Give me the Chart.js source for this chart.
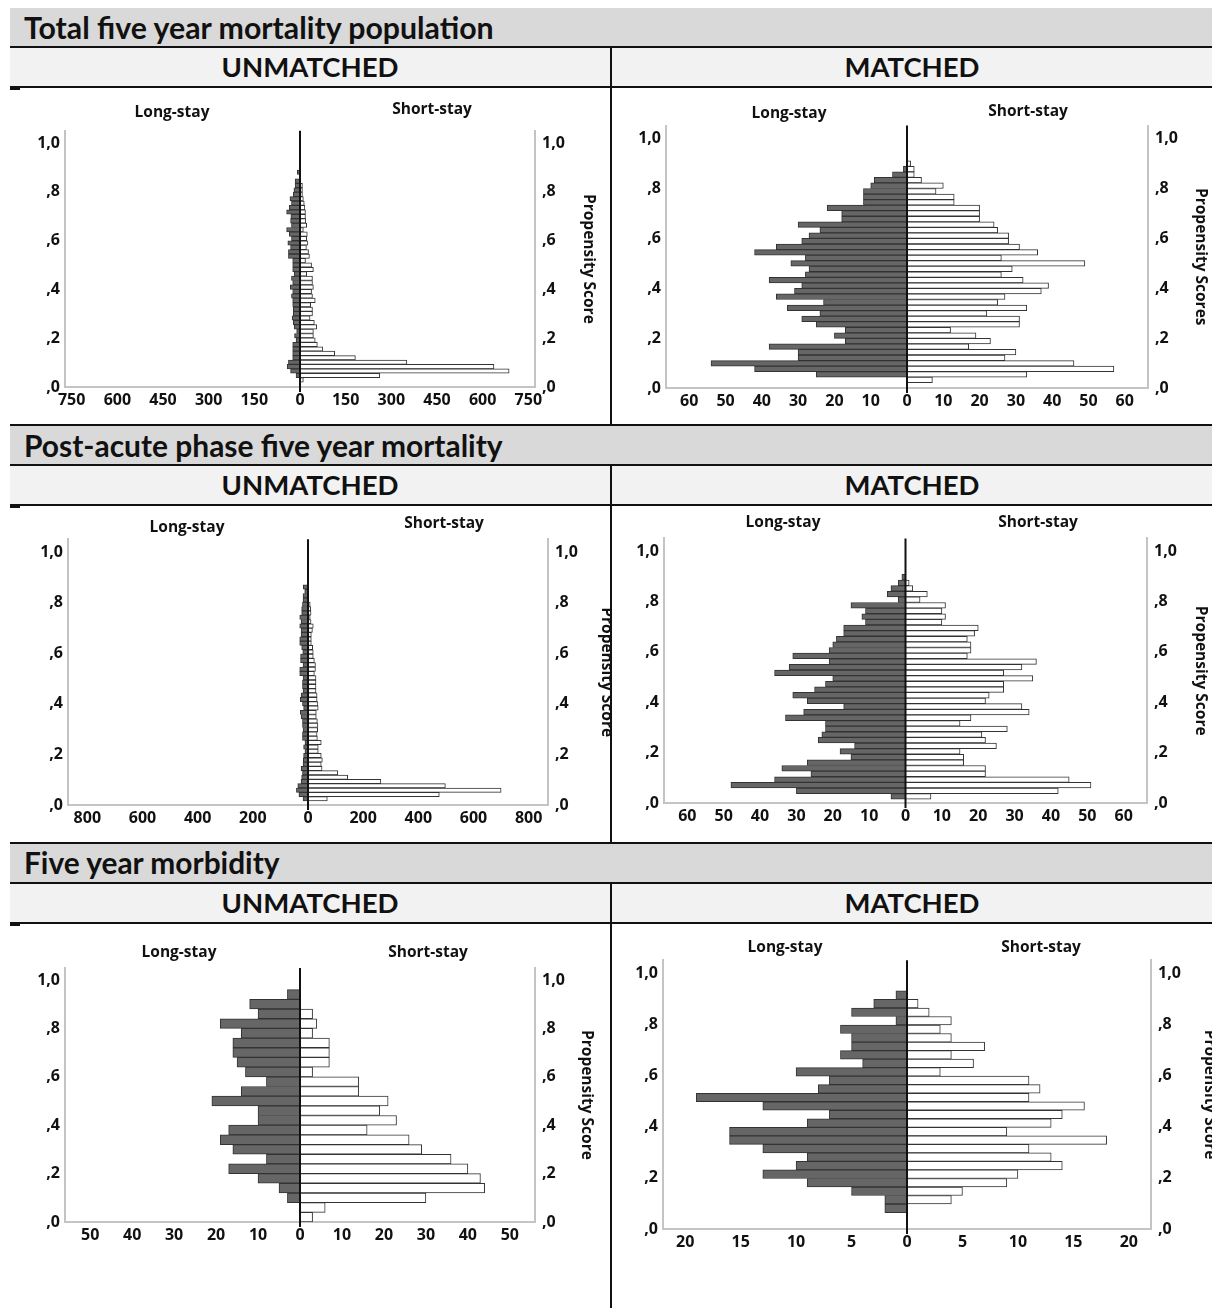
<!DOCTYPE html>
<html>
<head>
<meta charset="utf-8">
<title>Propensity score pyramids</title>
<script src="https://cdn.jsdelivr.net/npm/chart.js@4.4.1/dist/chart.umd.min.js"></script>
<style>
  html, body { margin: 0; padding: 0; background: #fff; }
  body { position: relative; width: 1212px; height: 1308px; overflow: hidden; font-family: Lato, "Open Sans", sans-serif; color: #111; }
  .sec, .sub { position: absolute; left: 10px; width: 1202px; height: 38px; line-height: 38px; border-bottom: 2px solid #111; }
  .sec { background: #d9d9d9; }
  .sub { background: #f2f2f2; }
  .sec span { position: absolute; left: 14px; top: 0; font-weight: bold; white-space: nowrap; }
  .sub span { position: absolute; top: 0; width: 600px; font-weight: bold; text-align: center; white-space: nowrap; }
  .hline { position: absolute; left: 10px; width: 1202px; height: 2px; background: #111; z-index: 2; }
  .vline { position: absolute; left: 610px; width: 2px; background: #111; z-index: 2; }
  .stub { position: absolute; left: 10px; width: 10px; height: 3px; background: #111; z-index: 2; }
  canvas { position: absolute; }
</style>
</head>
<body>
<div class="sec" style="top:8px"><span data-w="472">Total five year mortality population</span></div>
<div class="sub" style="top:48px"><span style="left:0" data-w="177">UNMATCHED</span><span style="left:602px" data-w="135">MATCHED</span></div>
<div class="hline" style="top:424px"></div>
<div class="sec" style="top:426px"><span data-w="480">Post-acute phase five year mortality</span></div>
<div class="sub" style="top:466px"><span style="left:0" data-w="177">UNMATCHED</span><span style="left:602px" data-w="135">MATCHED</span></div>
<div class="hline" style="top:842px"></div>
<div class="sec" style="top:844px"><span data-w="257">Five year morbidity</span></div>
<div class="sub" style="top:884px"><span style="left:0" data-w="177">UNMATCHED</span><span style="left:602px" data-w="135">MATCHED</span></div>
<div class="vline" style="top:48px;height:377px"></div>
<div class="vline" style="top:466px;height:377px"></div>
<div class="vline" style="top:884px;height:424px"></div>
<div class="stub" style="top:87px"></div>
<div class="stub" style="top:505px"></div>
<div class="stub" style="top:923px"></div>

<script>
// propensity score axis, same on every panel
const yTickValues = [0, 0.2, 0.4, 0.6, 0.8, 1.0];
const yTickLabels = [',0', ',2', ',4', ',6', ',8', '1,0'];
const yMax = 1.05;

// counts per propensity bin, listed from the highest bin down to the lowest

// Total five year mortality population - unmatched
const totalUnmatchedLong = [9, 0, 16, 16, 20, 22, 33, 28, 35, 44, 30, 31, 28, 44, 35, 28, 40, 31, 38, 38, 24, 24, 24, 19,
  28, 24, 32, 24, 28, 24, 24, 22, 22, 26, 22, 19, 11, 18, 13, 24, 24, 24, 24, 38, 42, 31, 13, 0];
const totalUnmatchedShort = [0, 0, 0, 8, 8, 8, 11, 14, 16, 18, 18, 19, 22, 11, 24, 22, 26, 21, 28, 31, 18, 38, 44, 22,
  41, 41, 44, 38, 41, 50, 35, 41, 41, 33, 47, 55, 44, 44, 50, 57, 75, 114, 182, 351, 637, 687, 262, 11];
const totalUnmatchedTicks = [-750, -600, -450, -300, -150, 0, 150, 300, 450, 600, 750];

// Total five year mortality population - matched
const totalMatchedLong = [0, 1, 4, 9, 10, 12, 12, 12, 22, 18, 18, 30, 24, 27, 29, 36, 42, 28, 32, 27,
  28, 38, 29, 31, 36, 23, 33, 24, 29, 25, 17, 20, 17, 38, 30, 30, 54, 42, 25, 0];
const totalMatchedShort = [1, 2, 2, 4, 10, 8, 13, 13, 20, 20, 20, 24, 25, 28, 28, 31, 36, 26, 49, 29,
  26, 32, 39, 37, 27, 25, 33, 22, 31, 31, 12, 19, 23, 17, 30, 27, 46, 57, 33, 7];
const matchedTicks = [-60, -50, -40, -30, -20, -10, 0, 10, 20, 30, 40, 50, 60];

// Post-acute phase five year mortality - unmatched
const postUnmatchedLong = [17, 12, 18, 18, 20, 23, 23, 30, 25, 30, 25, 25, 30, 30, 23, 19, 27, 27, 18, 30, 30, 18, 20, 20, 18,
  25, 28, 20, 16, 28, 25, 20, 20, 18, 20, 20, 11, 16, 11, 16, 17, 18, 25, 20, 23, 25, 37, 42, 33, 18];
const postUnmatchedShort = [0, 0, 0, 2, 8, 10, 11, 8, 11, 19, 16, 12, 12, 12, 17, 19, 19, 23, 27, 27, 23, 29, 29, 29, 29,
  33, 33, 36, 37, 30, 30, 34, 36, 35, 33, 34, 48, 37, 37, 48, 52, 48, 51, 108, 144, 264, 498, 700, 476, 70];
const postUnmatchedTicks = [-800, -600, -400, -200, 0, 200, 400, 600, 800];

// Post-acute phase five year mortality - matched
const postMatchedLong = [1, 2, 4, 5, 2, 15, 11, 12, 11, 17, 17, 19, 20, 21, 31, 21, 32, 36, 20, 22,
  25, 31, 27, 17, 28, 33, 22, 22, 23, 24, 14, 18, 15, 27, 34, 26, 36, 48, 30, 4];
const postMatchedShort = [0, 1, 2, 6, 4, 11, 10, 11, 10, 20, 19, 17, 18, 18, 17, 36, 32, 27, 35, 27,
  27, 23, 22, 32, 34, 18, 15, 28, 21, 22, 25, 15, 16, 16, 22, 22, 45, 51, 42, 7];

// Five year morbidity - unmatched
const morbUnmatchedLong = [3, 12, 10, 19, 14, 16, 16, 15, 13, 8, 14, 21, 10, 10, 17, 19, 16, 8, 17, 10, 5, 3, 0, 0];
const morbUnmatchedShort = [0, 0, 3, 4, 3, 7, 7, 7, 3, 14, 14, 21, 19, 23, 16, 26, 29, 36, 40, 43, 44, 30, 6, 3];
const morbUnmatchedTicks = [-50, -40, -30, -20, -10, 0, 10, 20, 30, 40, 50];

// Five year morbidity - matched
const morbMatchedLong = [1, 3, 5, 1, 6, 5, 5, 6, 4, 10, 7, 8, 19, 13, 7, 9, 16, 16, 13, 9, 10, 13, 9, 5, 2, 2];
const morbMatchedShort = [0, 1, 2, 4, 3, 4, 7, 4, 6, 3, 11, 12, 11, 16, 14, 13, 9, 18, 11, 13, 14, 10, 9, 5, 4, 0];
const morbMatchedTicks = [-20, -15, -10, -5, 0, 5, 10, 15, 20];

// fit header texts to the widths seen in the original
const measure = document.createElement('canvas').getContext('2d');
document.querySelectorAll('span[data-w]').forEach(el => {
  measure.font = 'bold 100px Lato';
  const w = measure.measureText(el.textContent).width;
  el.style.fontSize = (100 * el.dataset.w / w).toFixed(2) + 'px';
});

Chart.defaults.font.family = '"Open Sans"';
Chart.defaults.color = '#111';

const axisGrey = '#c4c4c4';
const tickFont = { family: '"Open Sans"', size: 16, weight: 'bold' };

// black zero line, group labels and the rotated score title
const panelText = {
  id: 'panelText',
  afterDatasetsDraw(chart, args, o) {
    const ctx = chart.ctx;
    const a = chart.chartArea;
    const x0 = chart.scales.x.getPixelForValue(0);
    ctx.save();
    ctx.strokeStyle = '#111';
    ctx.lineWidth = 2;
    ctx.beginPath();
    ctx.moveTo(x0, a.top);
    ctx.lineTo(x0, a.bottom + 5);
    ctx.stroke();
    ctx.fillStyle = '#111';
    ctx.font = 'bold 15.5px "Open Sans"';
    ctx.textAlign = 'center';
    ctx.textBaseline = 'middle';
    ctx.fillText('Long-stay', o.longX, o.longY);
    ctx.fillText('Short-stay', o.shortX, o.shortY);
    ctx.translate(o.titleX, (a.top + a.bottom) / 2);
    ctx.rotate(Math.PI / 2);
    ctx.font = 'bold 15.5px "Open Sans"';
    ctx.fillText(o.title, 0, 0);
    ctx.restore();
  }
};

const panels = [
  { long: totalUnmatchedLong, short: totalUnmatchedShort, binTop: 0.889, binStep: 0.0181, range: 772, xTicks: totalUnmatchedTicks,
    cell: [10, 88, 601, 337], plot: [65, 535, 387], ppu: 244,
    title: 'Propensity Score', titleX: 588, longX: 172, longY: 113, shortX: 432, shortY: 110 },
  { long: totalMatchedLong, short: totalMatchedShort, binTop: 0.909, binStep: 0.0222, range: 66.4, xTicks: matchedTicks,
    cell: [613, 88, 599, 337], plot: [666, 1148, 388], ppu: 250,
    title: 'Propensity Scores', titleX: 1200, longX: 789, longY: 114, shortX: 1028, shortY: 112 },
  { long: postUnmatchedLong, short: postUnmatchedShort, binTop: 0.870, binStep: 0.01708, range: 870, xTicks: postUnmatchedTicks,
    cell: [10, 506, 601, 337], plot: [68, 548, 805], ppu: 253,
    title: 'Propensity Score', titleX: 606, longX: 187, longY: 528, shortX: 444, shortY: 524 },
  { long: postMatchedLong, short: postMatchedShort, binTop: 0.907, binStep: 0.0223, range: 66.4, xTicks: matchedTicks,
    cell: [613, 506, 599, 337], plot: [664, 1147, 803], ppu: 252,
    title: 'Propensity Score', titleX: 1200, longX: 783, longY: 523, shortX: 1038, shortY: 523 },
  { long: morbUnmatchedLong, short: morbUnmatchedShort, binTop: 0.96, binStep: 0.04, range: 56, xTicks: morbUnmatchedTicks,
    cell: [10, 924, 601, 384], plot: [65, 535, 1222], ppu: 242,
    title: 'Propensity Score', titleX: 586, longX: 179, longY: 953, shortX: 428, shortY: 953 },
  { long: morbMatchedLong, short: morbMatchedShort, binTop: 0.93, binStep: 0.0333, range: 22, xTicks: morbMatchedTicks,
    cell: [613, 924, 599, 384], plot: [663, 1151, 1229], ppu: 256,
    title: 'Propensity Score', titleX: 1209, longX: 785, longY: 948, shortX: 1041, shortY: 948 }
];

function yAxis(position, width) {
  return {
    type: 'linear',
    position: position,
    min: 0,
    max: yMax,
    offset: false,
    grid: { display: false, drawTicks: false },
    border: { color: axisGrey, width: 2 },
    afterBuildTicks: s => { s.ticks = yTickValues.map(v => ({ value: v })); },
    ticks: {
      font: tickFont,
      padding: position === 'left' ? 5 : 7,
      callback: v => yTickLabels[yTickValues.findIndex(t => Math.abs(t - v) < 1e-6)]
    },
    afterFit: s => { s.width = width; }
  };
}

panels.forEach(p => {
  const [cx, cy, cw, ch] = p.cell;
  const [pl, pr, y0] = p.plot;
  const pt = y0 - yMax * p.ppu;

  const canvas = document.createElement('canvas');
  canvas.width = cw;
  canvas.height = ch;
  canvas.style.left = cx + 'px';
  canvas.style.top = cy + 'px';
  document.body.appendChild(canvas);

  const mid = i => p.binTop - (i + 0.5) * p.binStep;
  const rows = (vals, sign) => vals.map((v, i) => ({ x: sign * v, y: mid(i) })).filter(d => d.x !== 0);

  new Chart(canvas, {
    type: 'bar',
    data: {
      datasets: [
        { label: 'Long-stay', data: rows(p.long, -1), backgroundColor: '#666666', borderColor: '#333333', borderWidth: 1,
          grouped: false, barPercentage: 1, categoryPercentage: 1 },
        { label: 'Short-stay', data: rows(p.short, 1), backgroundColor: '#ffffff', borderColor: '#333333', borderWidth: 1,
          grouped: false, barPercentage: 1, categoryPercentage: 1 }
      ]
    },
    options: {
      indexAxis: 'y',
      responsive: false,
      animation: false,
      layout: { padding: { top: pt - cy, left: 0, right: 0, bottom: 0 } },
      scales: {
        x: {
          type: 'linear',
          min: -p.range,
          max: p.range,
          grid: { display: false, drawTicks: false },
          border: { color: axisGrey, width: 2 },
          afterBuildTicks: s => { s.ticks = p.xTicks.map(v => ({ value: v })); },
          ticks: { font: tickFont, padding: 4, autoSkip: false, maxRotation: 0, callback: v => Math.abs(v) },
          afterFit: s => { s.height = cy + ch - y0; }
        },
        y: yAxis('left', pl - cx),
        y2: yAxis('right', cx + cw - pr)
      },
      plugins: {
        legend: { display: false },
        tooltip: { enabled: false },
        panelText: {
          title: p.title,
          titleX: p.titleX - cx,
          longX: p.longX - cx, longY: p.longY - cy,
          shortX: p.shortX - cx, shortY: p.shortY - cy
        }
      }
    },
    plugins: [panelText]
  });
});
</script>
</body>
</html>
